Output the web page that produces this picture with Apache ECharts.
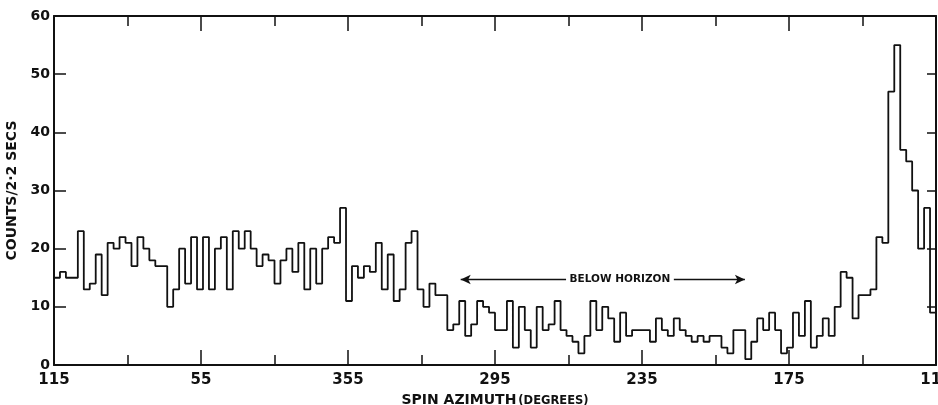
<!DOCTYPE html>
<html>
<head>
<meta charset="utf-8">
<script src="https://cdn.jsdelivr.net/npm/echarts@6/dist/echarts.min.js"></script>
<style>
html,body{margin:0;padding:0;background:#fff;}
#chart{width:938px;height:405px;}
</style>
</head>
<body>
<div id="chart"></div>
<script>
// Counts per spin-azimuth bin, left to right (148 bins spanning 360 degrees)
const counts = [
  15,16,15,15,23,13,14,19,12,21,
  20,22,21,17,22,20,18,17,17,10,
  13,20,14,22,13,22,13,20,22,13,
  23,20,23,20,17,19,18,14,18,20,
  16,21,13,20,14,20,22,21,27,11,
  17,15,17,16,21,13,19,11,13,21,
  23,13,10,14,12,12,6,7,11,5,
  7,11,10,9,6,6,11,3,10,6,
  3,10,6,7,11,6,5,4,2,5,
  11,6,10,8,4,9,5,6,6,6,
  4,8,6,5,8,6,5,4,5,4,
  5,5,3,2,6,6,1,4,8,6,
  9,6,2,3,9,5,11,3,5,8,
  5,10,16,15,8,12,12,13,22,21,
  47,55,37,35,30,20,27,9
];
// Azimuth tick labels (spin azimuth decreasing left to right, wrapping through 360)
const xTickLabels = ['115','55','355','295','235','175','115'];
const yTickValues = [0,10,20,30,40,50,60];
const yAxisTitle = 'COUNTS/2·2 SECS';
const xAxisTitleMain = 'SPIN AZIMUTH';
const xAxisTitleUnit = '(DEGREES)';
const annotationText = 'BELOW HORIZON';
// annotation placement in axis units (degrees from left edge, count level)
const arrowLeft = [166, 209];
const arrowRight = [253, 282];
const annotationCenter = 231;
const annotationLevel = 14.7;

const span = 360;
const binWidth = span / counts.length;
const stepData = counts.map((v, i) => [i * binWidth, v]);
stepData.push([span, counts[counts.length - 1]]);

const font = 'DejaVu Sans';
const chart = echarts.init(document.getElementById('chart'), null, {renderer: 'canvas'});

const axisLineStyle = {show: true, onZero: false, lineStyle: {color: '#111', width: 2}};
const xTickCommon = {
  axisLine: axisLineStyle,
  axisTick: {show: true, inside: true, length: 15, lineStyle: {color: '#111', width: 1.5}},
  minorTick: {show: true, splitNumber: 2, length: 10, lineStyle: {color: '#111', width: 1.5}},
  splitLine: {show: false},
  minorSplitLine: {show: false}
};

chart.setOption({
  animation: false,
  backgroundColor: '#fff',
  grid: {left: 54, right: 2, top: 16, bottom: 40, containLabel: false, outerBoundsMode: 'none'},
  xAxis: [
    Object.assign({
      type: 'value', min: 0, max: span, interval: 60, position: 'bottom',
      axisLabel: {
        show: true, margin: 8, color: '#111', fontFamily: font, fontWeight: 'bold', fontSize: 15,
        formatter: v => xTickLabels[Math.round(v / 60)]
      },
      name: '{a|' + xAxisTitleMain + '}{b|' + xAxisTitleUnit + '}',
      nameLocation: 'middle', nameGap: 26,
      nameTextStyle: {
        rich: {
          a: {fontFamily: font, fontWeight: 'bold', fontSize: 14, color: '#111'},
          b: {fontFamily: font, fontWeight: 'bold', fontSize: 11.5, color: '#111', padding: [2,0,0,2]}
        }
      }
    }, xTickCommon),
    Object.assign({
      type: 'value', min: 0, max: span, interval: 60, position: 'top',
      axisLabel: {show: false}
    }, xTickCommon)
  ],
  yAxis: [
    {
      type: 'value', min: yTickValues[0], max: yTickValues[yTickValues.length - 1], interval: 10,
      position: 'left',
      axisLine: axisLineStyle,
      axisTick: {show: true, inside: true, length: 12, lineStyle: {color: '#111', width: 1.5}},
      splitLine: {show: false},
      axisLabel: {show: true, margin: 4, color: '#111', fontFamily: font, fontWeight: 'bold', fontSize: 14},
      name: yAxisTitle, nameLocation: 'middle', nameGap: 32, nameRotate: 90,
      nameTextStyle: {fontFamily: font, fontWeight: 'bold', fontSize: 14, color: '#111'}
    },
    {
      type: 'value', min: yTickValues[0], max: yTickValues[yTickValues.length - 1], interval: 10,
      position: 'right',
      axisLine: axisLineStyle,
      axisTick: {show: true, inside: true, length: 9, lineStyle: {color: '#111', width: 1.5}},
      splitLine: {show: false},
      axisLabel: {show: false}
    }
  ],
  series: [{
    type: 'line',
    xAxisIndex: 0, yAxisIndex: 0,
    step: 'end',
    data: stepData,
    showSymbol: false,
    symbol: 'none',
    lineStyle: {color: '#111', width: 1.8},
    silent: true,
    markLine: {
      silent: true,
      symbolSize: [7, 10],
      lineStyle: {color: '#111', width: 1.3, type: 'solid'},
      label: {show: false},
      data: [
        [{coord: [arrowLeft[0], annotationLevel], symbol: 'arrow'},
         {coord: [arrowLeft[1], annotationLevel], symbol: 'none'}],
        [{coord: [arrowRight[0], annotationLevel], symbol: 'none'},
         {coord: [arrowRight[1], annotationLevel], symbol: 'arrow'}]
      ]
    },
    markPoint: {
      silent: true,
      symbol: 'rect',
      symbolSize: [1, 1],
      itemStyle: {color: 'rgba(0,0,0,0)'},
      label: {show: true, position: 'inside', formatter: annotationText,
              fontFamily: font, fontWeight: 'bold', fontSize: 10.5, color: '#111'},
      data: [{coord: [annotationCenter, annotationLevel]}]
    }
  }]
});
</script>
</body>
</html>
